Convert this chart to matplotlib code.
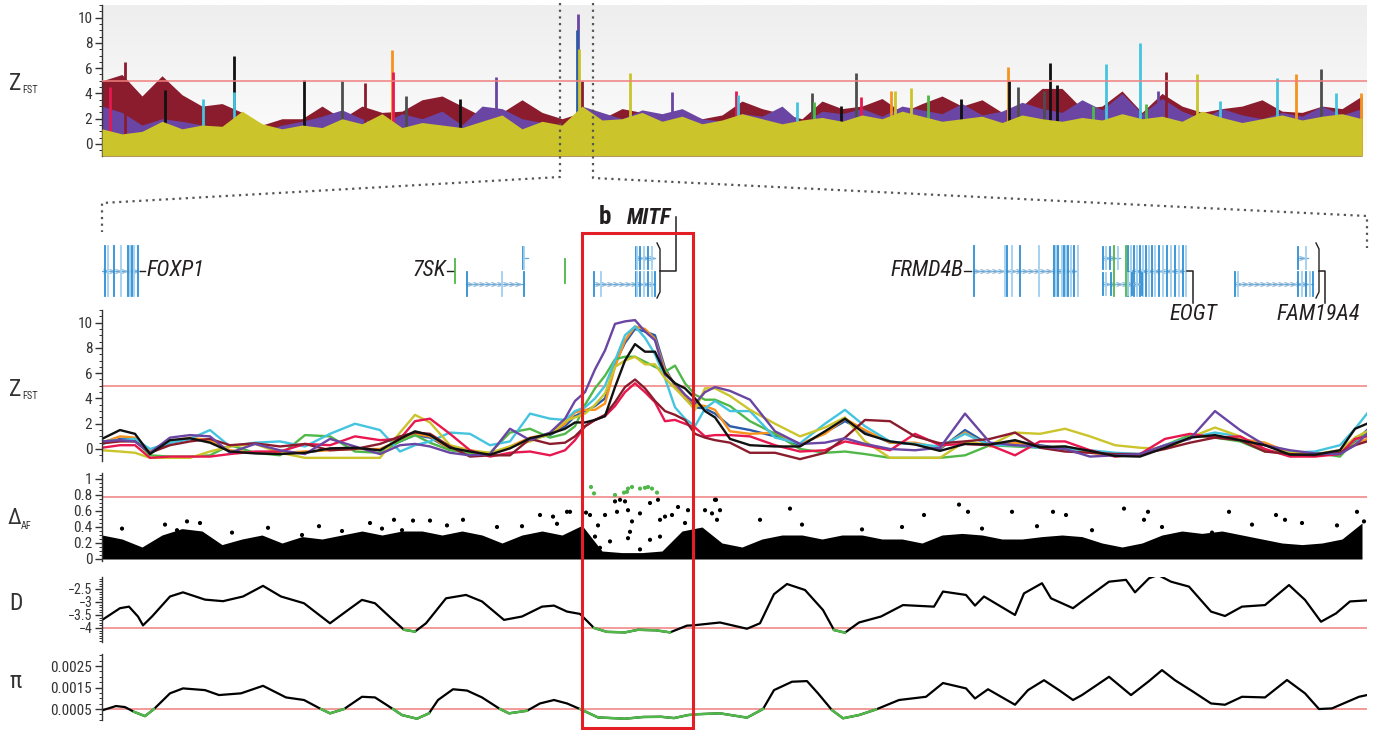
import numpy as np
import matplotlib.pyplot as plt
from matplotlib import font_manager as fm
from matplotlib.colors import LinearSegmentedColormap
from matplotlib.patches import Rectangle
from matplotlib.ticker import MultipleLocator, FixedLocator, FuncFormatter

# pick a narrow face if one is installed
_fonts = fm.fontManager.ttflist
_names = {f.name for f in _fonts}
if 'Liberation Sans Narrow' in _names:
    plt.rcParams['font.family'] = ['Liberation Sans Narrow', 'DejaVu Sans']
elif 'Roboto Condensed' in _names:
    plt.rcParams['font.family'] = ['Roboto Condensed', 'DejaVu Sans']
elif any(f.name == 'DejaVu Sans' and f.stretch == 'condensed' for f in _fonts):
    plt.rcParams['font.family'] = ['DejaVu Sans']
    plt.rcParams['font.stretch'] = 'condensed'
else:
    plt.rcParams['font.family'] = ['Roboto', 'DejaVu Sans']

COL = {'black': '#111111', 'grey': '#4d4d4d', 'purple': '#6a45a3', 'cyan': '#45c4df',
       'orange': '#f6921e', 'green': '#4fb848', 'crimson': '#e8174f', 'maroon': '#8b1c2e',
       'yellow': '#cbc42b', 'blue': '#2a5caa'}
RED = '#f07f7f'
SPAN = 1265  # positions along the x axis (all panels share the same range)

# ---------------- genome-wide Z_FST (bins of 20) ----------------
top_bins = np.arange(0, SPAN, 20)
maroon_top = [5.0, 5.5, 3.8, 5.4, 3.9, 3.0, 3.2, 2.5, 1.5, 2.0, 2.0, 3.0, 2.0, 3.0, 2.5, 2.6, 3.5, 3.8, 3.0, 2.2,
              2.5, 3.5, 2.5, 2.0, 2.5, 2.0, 2.8, 2.5, 2.2, 2.5, 2.0, 2.3, 3.4, 2.8, 2.4, 2.0, 3.4, 2.8, 3.0, 3.6,
              2.5, 3.2, 3.8, 3.0, 3.5, 2.5, 3.0, 4.4, 4.4, 2.8, 3.0, 4.2, 2.5, 4.0, 3.0, 2.5, 2.8, 3.0, 3.5, 2.6,
              2.5, 3.0, 2.8, 3.8]
purple_top = [3.0, 2.5, 1.5, 2.0, 1.8, 1.5, 1.2, 2.0, 1.0, 1.5, 1.8, 2.2, 2.7, 2.0, 1.6, 2.4, 2.0, 2.6, 1.5, 3.0,
              2.8, 2.0, 1.7, 1.2, 3.0, 2.5, 2.0, 2.7, 2.4, 2.8, 2.0, 1.8, 2.4, 2.2, 3.0, 1.6, 2.6, 2.4, 2.8, 2.2,
              3.0, 2.7, 2.4, 3.2, 2.3, 2.6, 3.3, 2.8, 2.5, 3.5, 2.7, 4.0, 2.4, 3.6, 2.6, 2.0, 2.8, 2.3, 2.0, 2.5,
              2.2, 3.0, 2.3, 2.8]
yellow_top = [1.2, 0.8, 1.0, 1.8, 1.2, 1.5, 1.4, 2.6, 1.6, 1.2, 1.5, 1.3, 2.0, 1.6, 2.4, 1.3, 1.7, 1.5, 1.3, 1.8,
              2.3, 1.2, 1.8, 1.5, 3.0, 1.9, 2.0, 2.5, 1.8, 2.2, 1.6, 1.9, 2.4, 2.0, 1.6, 1.9, 2.1, 1.8, 2.3, 2.0,
              2.6, 2.2, 1.8, 2.0, 2.2, 1.7, 2.3, 2.0, 1.8, 2.1, 1.9, 2.4, 2.0, 2.2, 1.8, 2.6, 2.1, 1.7, 2.0, 2.3,
              1.9, 2.2, 2.4, 2.0]
spike_pos = [8, 23, 63, 101, 132, 132, 202, 240, 263, 290, 291, 304, 358, 394, 476, 475, 477, 480, 528, 570,
             634, 636, 695, 710, 712, 739, 754, 759, 789, 793, 809, 826, 859, 906, 907, 916, 942, 948, 955, 991,
             1004, 1038, 1044, 1056, 1064, 1095, 1118, 1175, 1194, 1219, 1234, 1259]
spike_z = [4.5, 6.5, 4.3, 3.6, 7.0, 4.1, 5.1, 5.0, 4.8, 7.4, 5.7, 3.8, 3.6, 5.3, 10.3, 9.0, 7.5, 5.0, 5.6, 4.1,
           4.2, 3.9, 3.3, 4.0, 3.3, 3.0, 5.6, 3.7, 4.2, 4.2, 4.4, 3.9, 3.6, 6.1, 5.0, 4.5, 4.2, 6.4, 4.7, 3.0,
           6.3, 8.0, 3.2, 4.2, 5.7, 5.5, 3.4, 5.2, 5.5, 5.9, 4.0, 4.0]
spike_col = ['crimson', 'maroon', 'black', 'cyan', 'black', 'cyan', 'black', 'grey', 'maroon', 'orange',
             'crimson', 'grey', 'black', 'purple', 'purple', 'blue', 'yellow', 'maroon', 'yellow', 'purple',
             'crimson', 'cyan', 'cyan', 'grey', 'green', 'black', 'grey', 'crimson', 'orange', 'yellow',
             'yellow', 'green', 'black', 'orange', 'black', 'grey', 'grey', 'black', 'black', 'green',
             'cyan', 'cyan', 'green', 'purple', 'maroon', 'yellow', 'cyan', 'cyan', 'orange', 'grey', 'cyan', 'orange']
zoom_window = (458, 491)   # part of the genome-wide axis shown below
mitf_window = (480, 591)   # MITF window on the regional axis

# ---------------- regional Z_FST ----------------
z_pos = [0, 18, 33, 48, 68, 88, 108, 128, 153, 178, 203, 228, 253, 278, 298, 313, 328, 348, 368, 388,
         408, 428, 448, 463, 473, 483, 493, 503, 513, 523, 533, 543, 553, 563, 573, 583, 593, 603, 613, 628,
         648, 673, 698, 723, 743, 763, 788, 813, 838, 863, 888, 913, 938, 963, 988, 1013, 1038, 1063, 1088, 1113,
         1138, 1163, 1188, 1213, 1238, 1253, 1265]
z_black = [0.8, 1.5, 1.2, -0.4, 0.7, 0.85, 0.5, -0.2, -0.35, -0.4, -0.3, 0.05, 0.1, -0.1, 0.8, 1.4, 1.1, 0.1, -0.2, -0.45,
           0.05, 0.85, 1.2, 1.6, 2.1, 2.1, 2.3, 2.6, 4.9, 7.0, 8.3, 7.7, 7.7, 6.0, 5.2, 4.8, 4.0, 3.0, 2.5, 0.8,
           0.3, 0.2, 0.2, 1.4, 2.4, 1.2, 0.6, 0.35, -0.15, 0.4, 0.35, 0.7, 0.15, 0.2, -0.15, -0.55, -0.6, 0.1, 0.9, 1.1,
           0.7, 0.3, -0.45, -0.45, -0.1, 1.6, 2.0]
z_purple = [0.6, 0.7, 0.6, -0.3, 0.9, 1.1, 1.0, -0.3, 0.4, -0.1, -0.4, 0.8, 0.2, -0.4, 0.3, 0.4, 0.2, -0.3, -0.5, -0.4,
            1.6, 0.7, 1.3, 2.4, 3.8, 4.5, 6.3, 7.8, 9.9, 10.1, 10.2, 9.3, 8.6, 5.9, 5.2, 4.3, 3.6, 4.5, 4.9, 4.6,
            3.9, 1.4, 0.4, 0.5, 0.85, 0.4, 0.0, -0.1, 0.1, 2.8, 0.5, 0.3, 0.2, 0.0, -0.6, -0.5, -0.4, 0.3, 0.8, 3.0,
            1.5, 0.3, -0.1, -0.35, -0.4, 0.3, 1.2]
z_cyan = [0.6, 0.7, 0.8, 0.0, 0.5, 0.8, 1.5, 0.2, 0.5, 0.6, 0.2, 1.2, 2.0, 1.5, -0.2, 0.3, 0.6, 1.3, 1.2, 0.3,
          0.6, 2.8, 2.4, 2.3, 3.0, 3.3, 4.0, 5.0, 7.0, 9.0, 9.7, 8.8, 7.5, 5.6, 3.3, 2.4, 1.8, 3.2, 3.8, 3.0,
          3.0, 0.9, 0.45, 2.0, 3.1, 1.8, 0.6, 0.4, 0.2, 1.2, 0.3, 0.3, 0.1, 0.0, -0.1, -0.3, -0.4, 0.3, 0.9, 1.3,
          1.0, -0.2, -0.3, -0.2, 0.3, 1.6, 2.8]
z_orange = [0.5, 1.0, 0.9, -0.2, 0.6, 0.9, 0.7, -0.1, -0.3, -0.3, -0.2, -0.1, 0.0, 0.0, 0.7, 1.2, 1.0, 0.0, -0.3, -0.4,
            0.2, 0.9, 1.2, 2.0, 2.9, 3.1, 3.1, 3.6, 6.5, 8.6, 9.7, 9.5, 8.7, 6.2, 5.1, 4.2, 3.5, 3.4, 3.1, 1.4,
            1.2, 1.3, 0.4, 1.2, 2.4, 1.5, 0.5, 0.5, 0.1, 1.3, 0.2, 0.5, 0.2, 0.0, -0.3, -0.5, -0.5, 0.2, 1.0, 1.0,
            0.8, 0.5, -0.3, -0.4, -0.2, 0.4, 0.8]
z_green = [0.6, 0.7, 0.7, -0.5, -0.6, -0.6, -0.5, 0.3, -0.3, -0.5, 1.1, 1.0, -0.2, -0.3, 0.6, 1.1, 0.5, -0.1, -0.3, -0.3,
           1.3, 1.6, 0.9, 1.2, 1.8, 3.5, 4.8, 5.8, 7.1, 7.3, 7.3, 6.9, 6.5, 6.1, 6.6, 5.2, 4.3, 3.9, 3.9, 3.4,
           2.2, 1.2, 0.0, -0.3, -0.2, -0.4, -0.7, -0.7, -0.7, -0.5, 0.3, 0.2, 0.1, 0.2, -0.2, -0.4, -0.4, 0.3, 1.1, 0.9,
           0.6, -0.2, -0.3, -0.3, -0.6, 0.7, 1.2]
z_crimson = [0.1, 0.3, 0.3, -0.7, -0.6, -0.6, -0.6, -0.4, -0.2, -0.2, 0.4, 0.3, 1.0, 0.7, 0.8, 2.2, 2.4, 1.2, -0.1, -0.6,
             -0.3, -0.2, -0.5, -0.1, 0.7, 1.8, 2.3, 2.6, 3.4, 4.5, 5.2, 4.5, 3.7, 2.2, 2.3, 2.0, 1.7, 1.0, 1.1, 1.1,
             1.0, 0.3, -0.2, -0.1, 0.6, 0.3, -0.1, 1.2, 0.3, 0.4, 0.3, -0.5, 0.6, 0.6, -0.1, -0.6, -0.4, 0.8, 1.2, 0.9,
             1.0, 0.0, -0.6, -0.6, -0.4, 0.8, 1.0]
z_maroon = [0.45, 0.6, 0.6, -0.3, 0.3, 0.6, 0.8, 0.3, 0.45, 0.2, 0.4, -0.1, 0.0, 0.4, 1.0, 1.3, 1.2, 0.2, -0.6, -0.5,
            -0.5, 0.8, 0.4, 0.5, 1.0, 1.8, 2.3, 2.7, 3.7, 4.9, 5.5, 4.8, 3.8, 3.0, 2.7, 2.3, 1.2, 0.9, 0.7, 0.5,
            -0.3, -0.3, -0.8, -0.3, 0.9, 2.3, 2.2, 1.0, 0.45, 0.6, 0.8, 1.3, 0.1, -0.2, -0.3, -0.4, -0.4, 0.0, 0.5, 0.9,
            0.7, -0.2, -0.4, -0.5, -0.3, 0.3, 0.6]
z_yellow = [-0.1, -0.2, -0.3, -0.7, -0.7, -0.7, -0.2, 0.2, 0.4, -0.3, -0.7, -0.7, -0.7, -0.7, 1.3, 2.7, 2.1, 0.3, -0.1, -0.3,
            0.2, 0.6, 1.2, 2.2, 2.5, 2.8, 3.5, 4.4, 6.5, 7.0, 7.3, 6.7, 6.7, 5.6, 4.8, 4.0, 3.1, 4.8, 4.8, 4.2,
            3.1, 2.0, 1.0, 1.7, 2.5, 0.6, -0.7, -0.7, -0.7, 0.6, 0.3, 1.3, 1.2, 1.6, 1.0, 0.3, 0.1, 0.0, 0.9, 1.7,
            1.0, -0.2, -0.3, -0.4, -0.1, 0.9, 1.4]
z_blue = [0.4, 0.8, 0.8, -0.3, 0.5, 0.8, 0.6, -0.2, -0.3, -0.3, -0.3, 0.0, 0.1, -0.1, 0.6, 1.1, 0.9, 0.0, -0.3, -0.4,
          0.1, 0.8, 1.1, 1.8, 2.6, 3.0, 3.4, 4.0, 6.8, 8.4, 9.5, 9.3, 9.0, 6.4, 5.0, 4.0, 3.3, 3.2, 2.8, 1.8,
          1.5, 1.0, 0.3, 1.3, 2.2, 1.4, 0.5, 0.4, 0.0, 1.5, 0.3, 0.6, 0.3, 0.0, -0.2, -0.5, -0.5, 0.2, 1.0, 1.0,
          0.8, 0.3, -0.3, -0.4, -0.2, 0.6, 1.5]

# ---------------- delta allele frequency ----------------
daf_bins = np.arange(0, SPAN, 20)
daf_top = [0.30, 0.25, 0.15, 0.30, 0.38, 0.35, 0.18, 0.25, 0.30, 0.20, 0.28, 0.25, 0.30, 0.35, 0.30, 0.35,
           0.35, 0.30, 0.35, 0.30, 0.20, 0.30, 0.35, 0.30, 0.42, 0.10, 0.08, 0.08, 0.10, 0.35, 0.40, 0.20,
           0.15, 0.25, 0.30, 0.30, 0.25, 0.30, 0.30, 0.25, 0.25, 0.20, 0.30, 0.32, 0.30, 0.25, 0.25, 0.28,
           0.30, 0.28, 0.20, 0.15, 0.20, 0.30, 0.35, 0.32, 0.35, 0.30, 0.25, 0.20, 0.18, 0.20, 0.25, 0.45]
daf_pt_pos = [489, 492, 513, 522, 526, 530, 525, 538, 543, 546, 550, 555,
              484, 488, 496, 503, 513, 518, 523, 515, 526, 530, 528, 526, 538, 548, 556, 558, 563, 570,
              576, 583, 586, 508, 498, 548, 603, 613, 610, 615, 558, 538, 493, 465, 688, 658,
              63, 85, 98, 166, 217, 268, 292, 311, 328, 361, 438, 451, 468, 614, 618, 857, 866, 910,
              951, 964, 1022, 1042, 1046, 1127, 1174, 1183, 1255, 1262, 822, 200, 240,
              20, 75, 130, 280, 300, 345, 395, 420, 455, 700, 760, 800, 880, 935, 990, 1060, 1110, 1150, 1200, 1235]
daf_pt_val = [0.90, 0.82, 0.80, 0.83, 0.88, 0.90, 0.84, 0.88, 0.89, 0.90, 0.88, 0.83,
              0.58, 0.55, 0.42, 0.55, 0.72, 0.74, 0.72, 0.59, 0.61, 0.47, 0.34, 0.26, 0.57, 0.70, 0.74, 0.49, 0.53, 0.55,
              0.65, 0.45, 0.61, 0.22, 0.14, 0.24, 0.61, 0.74, 0.57, 0.49, 0.28, 0.12, 0.28, 0.59, 0.63, 0.49,
              0.43, 0.47, 0.45, 0.39, 0.41, 0.45, 0.49, 0.48, 0.48, 0.49, 0.55, 0.53, 0.59, 0.74, 0.61, 0.68, 0.59, 0.59,
              0.59, 0.55, 0.63, 0.49, 0.59, 0.59, 0.55, 0.49, 0.59, 0.47, 0.55, 0.30, 0.35,
              0.38, 0.36, 0.33, 0.38, 0.36, 0.42, 0.40, 0.41, 0.44, 0.43, 0.37, 0.40, 0.38, 0.41, 0.36, 0.40, 0.33,
              0.43, 0.45, 0.42]
daf_cut = 0.775

# ---------------- Tajima's D ----------------
d_pos = [1, 18, 27, 36, 41, 50, 68, 81, 103, 121, 141, 161, 179, 202, 228, 246, 260, 273, 291, 302, 313, 324,
         344, 364, 380, 402, 420, 440, 452, 465, 478, 492, 505, 523, 536, 554, 568, 585, 591, 618, 645, 658,
         662, 672, 685, 703, 721, 732, 743, 757, 779, 801, 832, 841, 864, 873, 882, 913, 922, 940, 949, 971,
         980, 1007, 1024, 1033, 1047, 1056, 1069, 1087, 1109, 1123, 1140, 1163, 1187, 1203, 1219, 1234, 1248, 1265]
d_val = [-3.67, -3.24, -3.18, -3.56, -3.90, -3.56, -2.79, -2.63, -2.91, -2.97, -2.79, -2.38, -2.79, -3.05,
         -3.82, -3.31, -2.92, -3.05, -3.69, -4.07, -4.14, -3.82, -2.86, -2.73, -2.98, -3.69, -3.56, -3.18,
         -3.14, -3.37, -3.46, -4.00, -4.15, -4.17, -4.07, -4.09, -4.17, -3.91, -3.90, -3.79, -4.03, -3.82,
         -3.50, -2.70, -2.31, -2.54, -3.31, -4.08, -4.18, -3.79, -3.56, -3.12, -3.18, -2.60, -2.73, -3.14,
         -2.79, -3.50, -2.67, -2.28, -2.86, -3.24, -2.98, -2.22, -2.15, -2.63, -2.09, -1.96, -2.22, -2.41,
         -3.37, -3.54, -3.18, -3.12, -2.35, -2.92, -3.76, -3.44, -2.98, -2.94]
d_cut = -4.0

# ---------------- nucleotide diversity ----------------
pi_pos = [1, 14, 23, 32, 43, 52, 68, 81, 103, 117, 139, 161, 184, 202, 219, 228, 242, 260, 273, 291, 300, 315,
          327, 336, 351, 365, 380, 398, 407, 425, 438, 452, 465, 478, 496, 523, 541, 559, 572, 586, 596, 618,
          645, 661, 672, 690, 705, 716, 730, 741, 757, 774, 797, 824, 841, 864, 873, 886, 913, 926, 942, 957,
          971, 980, 1007, 1029, 1047, 1060, 1073, 1091, 1109, 1123, 1140, 1163, 1185, 1203, 1217, 1230, 1243, 1257, 1265]
pi_val = [0.00045, 0.00064, 0.00059, 0.00037, 0.00017, 0.00050, 0.00123, 0.00146, 0.00138, 0.00115, 0.00123,
          0.00158, 0.00104, 0.00092, 0.00050, 0.00030, 0.00050, 0.00107, 0.00104, 0.00050, 0.00022, 0.00005,
          0.00030, 0.00092, 0.00142, 0.00136, 0.00104, 0.00050, 0.00030, 0.00042, 0.00076, 0.00092, 0.00076,
          0.00050, 0.00011, 0.00005, 0.00013, 0.00014, 0.00008, 0.00022, 0.00026, 0.00030, 0.00010, 0.00050,
          0.00138, 0.00177, 0.00180, 0.00123, 0.00045, 0.00007, 0.00022, 0.00048, 0.00092, 0.00107, 0.00171,
          0.00146, 0.00099, 0.00142, 0.00070, 0.00138, 0.00184, 0.00138, 0.00092, 0.00115, 0.00200, 0.00115,
          0.00180, 0.00231, 0.00184, 0.00131, 0.00076, 0.00070, 0.00107, 0.00104, 0.00185, 0.00123, 0.00050,
          0.00053, 0.00079, 0.00107, 0.00115]
pi_cut = 0.0005

# ---------------- gene models (track y: 258 upper, 271 middle, 284 lower row) ----------------
tx_start = [0, 364, 421, 353, 463, 492, 534, 871, 1001, 1026, 1001, 1012, 1024, 1133, 1196]
tx_end = [38, 422, 426, 353, 463, 553, 553, 974, 1018, 1084, 1040, 1012, 1024, 1211, 1206]
tx_row = [271, 284, 258, 271, 271, 284, 258, 271, 258, 271, 284, 271, 271, 284, 258]
tx_half = [25, 12, 11, 12, 12, 12, 11, 25, 11, 25, 11, 25, 25, 12, 11]
tx_strand = [1, 1, 1, 0, 0, 1, 1, 1, 1, -1, 1, 0, 0, 1, 1]
tx_green = [0, 0, 0, 1, 1, 0, 0, 0, 0, 0, 0, 1, 1, 0, 0]
tx_exons = [[3, 6, 12, 19, 26, 28, 30, 32, 36],
            [365, 400, 422], [421, 422], [353], [463],
            [492, 499, 534, 535, 538, 542, 546, 550, 553], [534, 535, 538, 542, 546, 550],
            [872, 903, 905, 910, 918, 937, 952, 954, 956, 960, 962, 964, 966, 969, 972, 976],
            [1001, 1004, 1008, 1016],
            [1026, 1029, 1032, 1035, 1038, 1041, 1044, 1047, 1050, 1053, 1057, 1061, 1065, 1069, 1073, 1077, 1081, 1084],
            [1001, 1004, 1009, 1026, 1030, 1035, 1040], [1012], [1024],
            [1133, 1136, 1196, 1200, 1204, 1208, 1211], [1196, 1204]]

W, H = 1381, 730
X0, X1 = 102, 1367
fig = plt.figure(figsize=(W / 100, H / 100), dpi=100)


def px_axes(y0, y1):
    return fig.add_axes([X0 / W, 1 - y1 / H, (X1 - X0) / W, (y1 - y0) / H])


def fx(p):
    return X0 + p * (X1 - X0) / SPAN


def style(ax, lo, hi, major, minor, size=11):
    ax.set_xlim(0, SPAN)
    ax.set_ylim(lo, hi)
    for s in ['top', 'right', 'bottom']:
        ax.spines[s].set_visible(False)
    ax.spines['left'].set_color('#333333')
    ax.spines['left'].set_linewidth(1.0)
    ax.set_xticks([])
    ax.yaxis.set_major_locator(FixedLocator(major))
    ax.yaxis.set_minor_locator(MultipleLocator(minor))
    ax.tick_params(axis='y', which='major', length=5, width=1, colors='#333333', labelsize=size, pad=2)
    ax.tick_params(axis='y', which='minor', length=2.5, width=0.7, colors='#333333')
    ax.patch.set_alpha(0)


# top panel
ax_top = px_axes(5, 156)
style(ax_top, -0.95, 11.0, [0, 2, 4, 6, 8, 10], 0.5)
grad = LinearSegmentedColormap.from_list('bg', ['#fdfdfd', '#eeeeee'])
ax_top.imshow(np.linspace(0, 1, 100)[:, None], cmap=grad, aspect='auto', origin='lower',
              extent=[0, SPAN, -0.95, 11.0], zorder=0)
ax_top.fill_between(top_bins, -0.95, maroon_top, color=COL['maroon'], lw=0, zorder=1)
ax_top.fill_between(top_bins, -0.95, purple_top, color=COL['purple'], lw=0, zorder=2)
ax_top.vlines(spike_pos, -0.95, spike_z, colors=[COL[c] for c in spike_col], lw=2.0, zorder=3)
ax_top.fill_between(top_bins, -0.95, yellow_top, color=COL['yellow'], lw=0, zorder=4)
ax_top.axhline(5, color=RED, lw=1.1, zorder=5)
ax_top.set_xlim(0, SPAN)

# regional Z_FST
ax_z = px_axes(310, 461)
style(ax_z, -0.95, 11.0, [0, 2, 4, 6, 8, 10], 0.5)
for vals, c in [(z_blue, 'blue'), (z_orange, 'orange'), (z_green, 'green'), (z_cyan, 'cyan'),
                (z_yellow, 'yellow'), (z_crimson, 'crimson'), (z_maroon, 'maroon'),
                (z_purple, 'purple'), (z_black, 'black')]:
    ax_z.plot(z_pos, vals, color=COL[c], lw=1.7)
ax_z.axhline(5, color=RED, lw=1.1, zorder=0)

# delta AF: dense cloud up to the bin maximum plus isolated SNPs
ax_daf = px_axes(473.4, 561.4)
style(ax_daf, -0.03, 1.07, [0, 0.2, 0.4, 0.6, 0.8, 1.0], 0.05)
ax_daf.yaxis.set_major_formatter(FuncFormatter(lambda v, p: '%g' % v))
ax_daf.fill_between(daf_bins, 0, daf_top, color='black', lw=0)
pv = np.array(daf_pt_val)
ax_daf.scatter(daf_pt_pos, pv, s=9, lw=0,
               c=np.where(pv > daf_cut, COL['green'], 'black'), zorder=3)
ax_daf.axhline(daf_cut, color=RED, lw=1.1, zorder=0)

# Tajima's D
ax_d = px_axes(577, 642)
style(ax_d, -4.54, -2.04, [-2.5, -3, -3.5, -4], 0.1, size=10)
ax_d.yaxis.set_major_formatter(FuncFormatter(lambda v, p: ('%g' % v).replace('-', '\u2212')))
dv = np.array(d_val)
ax_d.plot(d_pos, dv, color='black', lw=1.6)
ax_d.plot(d_pos, np.ma.masked_where(dv > d_cut + 0.02, dv), color=COL['green'], lw=1.8)
ax_d.axhline(d_cut, color=RED, lw=1.1, zorder=0)

# pi
ax_pi = px_axes(654, 720)
style(ax_pi, -0.00001, 0.00306, [0.0005, 0.0015, 0.0025], 0.00025)
ax_pi.yaxis.set_major_formatter(FuncFormatter(lambda v, p: '%.4f' % v))
pv2 = np.array(pi_val)
ax_pi.plot(pi_pos, pv2, color='black', lw=1.6)
ax_pi.plot(pi_pos, np.ma.masked_where(pv2 > pi_cut + 0.00002, pv2), color=COL['green'], lw=1.8)
ax_pi.axhline(pi_cut, color=RED, lw=1.1, zorder=0)

# gene track
axg = fig.add_axes([X0 / W, 1 - 330 / H, (X1 - X0) / W, 130 / H])
axg.set_xlim(0, SPAN)
axg.set_ylim(330, 200)
axg.axis('off')
for s, e, y, h, st, g, ex in zip(tx_start, tx_end, tx_row, tx_half, tx_strand, tx_green, tx_exons):
    if e > s:
        axg.plot([s, e], [y, y], color='#5fa8dc', lw=0.9)
        xs = np.arange(s + 4, e - 2, 6)
        axg.plot(xs, [y] * len(xs), ls='none', marker='$>$' if st > 0 else '$<$', ms=4,
                 color='#8fb6d6', mew=0.3)
    for i, x in enumerate(ex):
        c = COL['green'] if g else ('#2f8fd3' if i % 2 == 0 else '#9fd0f0')
        axg.plot([x, x], [y - h, y + h], color=c, lw=1.3)

TXT = '#231f20'
lab = dict(fontsize=16, style='italic', color=TXT, va='center')
axg.plot([38, 43], [271, 271], color=TXT, lw=1)
axg.text(44, 271, 'FOXP1', ha='left', **lab)
axg.plot([345, 351], [271, 271], color=TXT, lw=1)
axg.text(344, 271, '7SK', ha='right', **lab)
axg.plot([862, 869], [271, 271], color=TXT, lw=1)
axg.text(861, 271, 'FRMD4B', ha='right', **lab)
# brackets and connectors
for bx in [555, 1214]:
    axg.plot([bx, bx + 3, bx + 3, bx], [243, 249, 292, 298], color=TXT, lw=1)
axg.plot([558, 574, 574], [271, 271, 217], color=TXT, lw=1.1)
axg.text(569, 218, 'MITF', ha='right', fontsize=16, style='italic', weight='bold', color=TXT, va='center')
axg.text(497, 217, 'b', ha='left', fontsize=18, weight='bold', color=TXT, va='center')
axg.plot([1085, 1091, 1091], [271, 271, 303], color=TXT, lw=1.1)
axg.text(1091, 314, 'EOGT', ha='center', clip_on=False, **lab)
axg.plot([1217, 1223, 1223], [271, 271, 303], color=TXT, lw=1.1)
axg.text(1216, 314, 'FAM19A4', ha='center', clip_on=False, **lab)

# overlay: zoom guides, MITF window, panel labels
ov = fig.add_axes([0, 0, 1, 1])
ov.set_xlim(0, W)
ov.set_ylim(H, 0)
ov.axis('off')
ov.patch.set_alpha(0)
zl, zr = fx(zoom_window[0]), fx(zoom_window[1])
dot = dict(color='#555555', lw=1.6, ls=(0, (1, 2)))
ov.plot([zl, zl, X0, X0], [3, 177, 203, 232], **dot)
ov.plot([zr, zr, X1, X1], [3, 178, 216, 248], **dot)
ml, mr = fx(mitf_window[0]), fx(mitf_window[1])
ov.add_patch(Rectangle((ml, 233), mr - ml, 495, fill=False, ec='#e31e24', lw=2.2, zorder=20))

lt = dict(color='#333333', va='center', ha='left')
for yc in [83, 389]:
    ov.text(9, yc, 'Z', fontsize=17, **lt)
    ov.text(22, yc + 7, 'FST', fontsize=7.5, **lt)
ov.text(8, 519, '\u0394', fontsize=16, **lt)
ov.text(21, 526, 'AF', fontsize=7.5, **lt)
ov.text(9, 604, 'D', fontsize=17, **lt)
ov.text(9, 682, '\u03c0', fontsize=17, **lt)

fig.savefig('out.png', dpi=100)
